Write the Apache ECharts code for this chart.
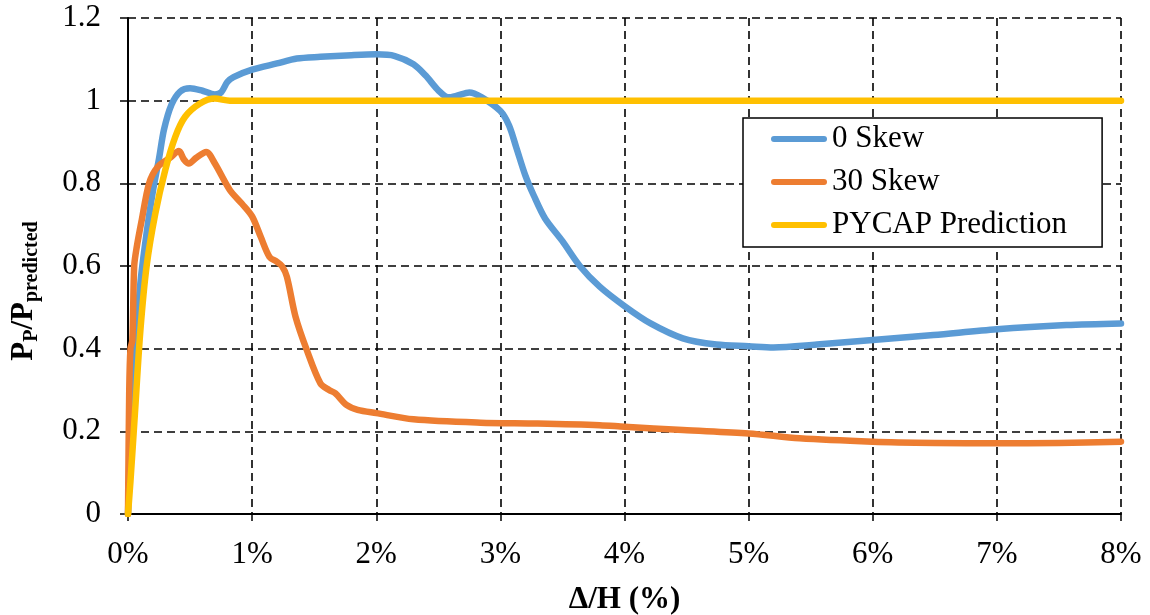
<!DOCTYPE html>
<html>
<head>
<meta charset="utf-8">
<script src="https://cdn.jsdelivr.net/npm/echarts@6/dist/echarts.min.js"></script>
<style>
  html, body { margin: 0; padding: 0; background: #ffffff; }
  #chart { width: 1150px; height: 615px; }
</style>
</head>
<body>
<div id="chart"></div>
<script>
// ---- Data (x in %, y = Pp/Ppredicted) ----
const skew0X = [0, 0.02, 0.05, 0.1, 0.15, 0.2, 0.25, 0.29, 0.35, 0.42, 0.5, 0.6, 0.7, 0.75, 0.8, 0.85, 1.0, 1.2, 1.36, 1.55, 1.8, 2.0, 2.15, 2.3, 2.4, 2.5, 2.58, 2.65, 2.75, 2.85, 3.0, 3.07, 3.13, 3.2, 3.27, 3.36, 3.5, 3.64, 3.8, 4.0, 4.21, 4.47, 4.74, 5.0, 5.2, 5.55, 6.0, 6.49, 7.0, 7.56, 8.0];
const skew0Y = [0, 0.2, 0.38, 0.56, 0.68, 0.78, 0.86, 0.93, 0.99, 1.022, 1.03, 1.024, 1.015, 1.02, 1.045, 1.057, 1.075, 1.09, 1.102, 1.106, 1.11, 1.112, 1.108, 1.088, 1.06, 1.025, 1.008, 1.012, 1.02, 1.008, 0.975, 0.94, 0.885, 0.82, 0.77, 0.715, 0.66, 0.6, 0.55, 0.503, 0.461, 0.425, 0.41, 0.406, 0.403, 0.41, 0.421, 0.433, 0.447, 0.457, 0.461];

const skew30X = [0, 0.01, 0.02, 0.035, 0.05, 0.07, 0.11, 0.17, 0.24, 0.34, 0.41, 0.45, 0.49, 0.55, 0.63, 0.7, 0.82, 0.92, 1.0, 1.07, 1.14, 1.2, 1.24, 1.28, 1.35, 1.44, 1.55, 1.62, 1.67, 1.76, 1.85, 2.0, 2.3, 2.84, 3.3, 3.8, 4.0, 4.47, 5.0, 5.41, 6.0, 6.5, 7.0, 7.5, 8.0];
const skew30Y = [0, 0.3, 0.4, 0.42, 0.6, 0.645, 0.71, 0.8, 0.84, 0.862, 0.878, 0.858, 0.848, 0.862, 0.876, 0.848, 0.784, 0.75, 0.72, 0.67, 0.622, 0.61, 0.6, 0.574, 0.477, 0.397, 0.316, 0.3, 0.292, 0.264, 0.252, 0.244, 0.229, 0.221, 0.219, 0.215, 0.211, 0.203, 0.195, 0.183, 0.175, 0.172, 0.171, 0.172, 0.175];

const pycapX = [0, 0.02, 0.056, 0.1, 0.15, 0.22, 0.3, 0.38, 0.46, 0.58, 0.7, 0.82, 1, 2, 3, 4, 5, 6, 7, 8];
const pycapY = [0, 0.08, 0.244, 0.445, 0.6, 0.727, 0.832, 0.912, 0.961, 0.993, 1.005, 1.0, 1, 1, 1, 1, 1, 1, 1, 1];

const seriesNames = ['0 Skew', '30 Skew', 'PYCAP Prediction'];
const seriesColors = ['#5B9BD5', '#ED7D31', '#FFC000'];
const xTickLabels = ['0%', '1%', '2%', '3%', '4%', '5%', '6%', '7%', '8%'];
const yTickLabels = ['0', '0.2', '0.4', '0.6', '0.8', '1', '1.2'];

function pairs(xs, ys) { return xs.map((x, i) => [x, ys[i]]); }

const FONT = "'Liberation Serif', 'Times New Roman', serif";

const chart = echarts.init(document.getElementById('chart'), null, { renderer: 'canvas' });

const lineSeries = (name, data, color) => ({
  name: name,
  type: 'line',
  data: data,
  smooth: 0.3,
  showSymbol: false,
  symbol: 'none',
  animation: false,
  lineStyle: { color: color, width: 6.5, cap: 'round', join: 'round' },
  itemStyle: { color: color },
  emphasis: { disabled: true }
});

const option = {
  backgroundColor: '#ffffff',
  animation: false,
  textStyle: { fontFamily: FONT },
  grid: { left: 128, right: 29, top: 18, bottom: 101, containLabel: false, outerBoundsMode: 'none' },
  legend: {
    orient: 'vertical',
    left: 743,
    top: 118,
    padding: [5, 35, 6, 28],
    itemGap: 11,
    itemWidth: 56,
    itemHeight: 6,
    icon: 'path://M3,0 L53,0 A3,3 0 0 1 53,6 L3,6 A3,3 0 0 1 3,0 Z',
    backgroundColor: '#ffffff',
    borderColor: '#000000',
    borderWidth: 1.5,
    borderRadius: 0,
    textStyle: { fontFamily: FONT, fontSize: 31, color: '#000000', lineHeight: 32 },
    data: seriesNames
  },
  xAxis: {
    type: 'value',
    min: 0, max: 8, interval: 1,
    name: 'Δ/H (%)',
    nameLocation: 'middle',
    nameGap: 70,
    nameTextStyle: { fontFamily: FONT, fontSize: 31, fontWeight: 'bold', color: '#000000' },
    axisLine: { show: true, onZero: false, lineStyle: { color: '#000000', width: 2 } },
    axisTick: { show: true, inside: false, length: 7, lineStyle: { color: '#000000', width: 1.5 } },
    axisLabel: {
      margin: 25, fontFamily: FONT, fontSize: 31, color: '#000000',
      formatter: (v) => xTickLabels[Math.round(v)]
    },
    splitLine: { show: true, lineStyle: { color: '#000000', width: 1.6, type: [8, 5] } }
  },
  yAxis: {
    type: 'value',
    min: 0, max: 1.2, interval: 0.2,
    name: '{b|P}{s|P}{b|/P}{s|predicted}',
    nameLocation: 'middle',
    nameRotate: 90,
    nameGap: 86,
    nameTextStyle: {
      fontFamily: FONT, color: '#000000', padding: [0, 50, 0, 0],
      rich: {
        b: { fontFamily: FONT, fontSize: 31, fontWeight: 'bold', color: '#000000', lineHeight: 36, verticalAlign: 'middle' },
        s: { fontFamily: FONT, fontSize: 20, fontWeight: 'bold', color: '#000000', lineHeight: 20, verticalAlign: 'bottom' }
      }
    },
    axisLine: { show: true, onZero: false, lineStyle: { color: '#000000', width: 2 } },
    axisTick: { show: true, inside: false, length: 8, lineStyle: { color: '#000000', width: 1.5 } },
    axisLabel: {
      margin: 27, fontFamily: FONT, fontSize: 31, color: '#000000',
      formatter: (v) => yTickLabels[Math.round(v / 0.2)]
    },
    splitLine: { show: true, lineStyle: { color: '#000000', width: 1.6, type: [8, 5] } }
  },
  series: [
    lineSeries(seriesNames[0], pairs(skew0X, skew0Y), seriesColors[0]),
    lineSeries(seriesNames[1], pairs(skew30X, skew30Y), seriesColors[1]),
    lineSeries(seriesNames[2], pairs(pycapX, pycapY), seriesColors[2])
  ]
};

chart.setOption(option);
</script>
</body>
</html>
